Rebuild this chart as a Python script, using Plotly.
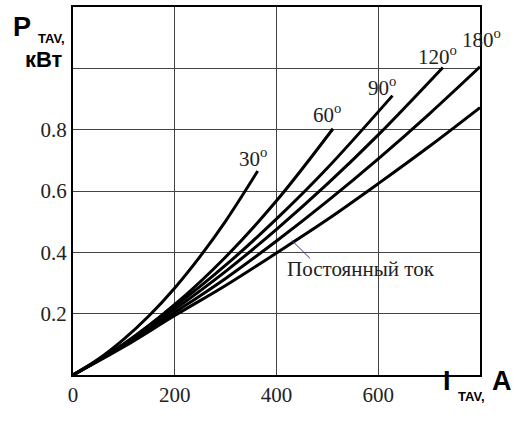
import plotly.graph_objects as go

# Average current (A) vs. power loss (kW)
i_30 = [0, 50, 100, 150, 200, 250, 300, 363]
p_30 = [0, 0.052, 0.117, 0.194, 0.284, 0.387, 0.502, 0.665]

i_60 = [0, 100, 200, 300, 400, 511]
p_60 = [0, 0.102, 0.230, 0.385, 0.568, 0.803]

i_90 = [0, 100, 200, 300, 400, 500, 628]
p_90 = [0, 0.100, 0.223, 0.358, 0.509, 0.675, 0.911]

i_120 = [0, 100, 200, 300, 400, 500, 600, 727]
p_120 = [0, 0.098, 0.214, 0.338, 0.475, 0.623, 0.783, 1.003]

i_180 = [0, 100, 200, 300, 400, 500, 600, 700, 800]
p_180 = [0, 0.096, 0.204, 0.315, 0.437, 0.567, 0.705, 0.851, 1.005]

i_dc = [0, 100, 200, 300, 400, 500, 600, 700, 800]
p_dc = [0, 0.092, 0.194, 0.292, 0.398, 0.507, 0.624, 0.745, 0.872]

x_ticks = [0, 200, 400, 600, 800]
x_tick_text = ["0", "200", "400", "600", ""]
y_ticks = [0.2, 0.4, 0.6, 0.8, 1.0]
y_tick_text = ["0.2", "0.4", "0.6", "0.8", ""]

angle_labels = ["30<sup>o</sup>", "60<sup>o</sup>", "90<sup>o</sup>", "120<sup>o</sup>", "180<sup>o</sup>"]
angle_label_px = [253, 327, 382, 437, 481]
angle_label_py = [156, 112, 85, 54, 37]

fig = go.Figure()
for xs, ys in [(i_30, p_30), (i_60, p_60), (i_90, p_90), (i_120, p_120), (i_180, p_180), (i_dc, p_dc)]:
    fig.add_trace(go.Scatter(x=xs, y=ys, mode="lines",
                             line=dict(color="black", width=3, shape="spline"),
                             showlegend=False, hoverinfo="skip"))

serif = "Liberation Serif, Times New Roman, serif"
sans = "Liberation Sans, Arial, sans-serif"


def pa(text, px, py, size, family, color="black"):
    fig.add_annotation(x=(px - 73) / 407, y=(375 - py) / 370, xref="paper", yref="paper",
                       xanchor="center", yanchor="middle",
                       text=text, showarrow=False,
                       font=dict(family=family, size=size, color=color))


for t, px, py in zip(angle_labels, angle_label_px, angle_label_py):
    pa(t, px, py, 21, serif, "#222")

# DC label and pointer
fig.add_shape(type="line", x0=430, y0=0.439, x1=466, y1=0.380, xref="x", yref="y",
              line=dict(color="#3a3a8c", width=1))
pa("Постоянный ток", 361, 268, 21, serif, "#222")

# Axis titles
pa("<b>P</b>", 22, 25, 27, sans)
pa("<b>TAV,</b>", 51, 37, 13, sans)
pa("<b>кВт</b>", 44, 58, 22, sans)
pa("<b>I</b>", 447, 381, 27, sans)
pa("<b>TAV,</b>", 471, 397, 13, sans)
pa("<b>A</b>", 502, 381, 27, sans)

fig.update_xaxes(range=[0, 800], tickvals=x_ticks, ticktext=x_tick_text,
                 showgrid=True, gridcolor="#444", gridwidth=1,
                 showline=True, linecolor="black", linewidth=2, mirror=True,
                 ticks="", zeroline=False,
                 tickfont=dict(family=serif, size=21, color="#222"))
fig.update_yaxes(range=[0, 1.2], tickvals=y_ticks, ticktext=y_tick_text,
                 showgrid=True, gridcolor="#444", gridwidth=1,
                 showline=True, linecolor="black", linewidth=2, mirror=True,
                 ticks="", zeroline=False,
                 tickfont=dict(family=serif, size=21, color="#222"))

fig.update_layout(width=517, height=425, margin=dict(l=73, r=37, t=5, b=50),
                  plot_bgcolor="white", paper_bgcolor="white")

fig.write_html("out.html")
